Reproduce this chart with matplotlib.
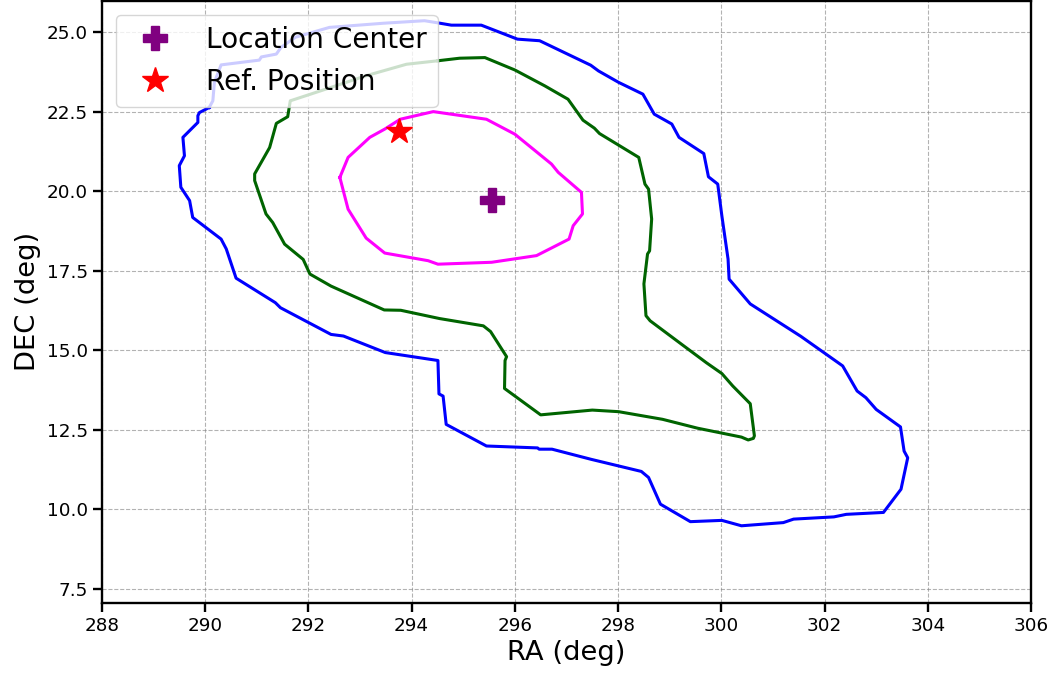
"""定位置信区域等高线图。"""

import matplotlib

matplotlib.use("Agg")

import matplotlib.pyplot as plt


# 外层（蓝）等高线
BLUE_RA = [
    290.08, 289.89, 289.86, 289.86, 289.57, 289.60, 289.50, 289.53, 289.70,
    289.76, 290.31, 290.41, 290.60, 291.36, 291.46, 292.44, 292.68, 293.49,
    294.51, 294.53, 294.61, 294.67, 295.45, 296.44, 296.47, 296.72, 297.48,
    298.45, 298.59, 298.82, 299.40, 300.01, 300.39, 301.20, 301.40, 302.18,
    302.42, 303.14, 303.48, 303.61, 303.54, 303.47, 303.00, 302.80, 302.63,
    302.35, 301.54, 300.56, 300.15, 300.13, 300.01, 299.93, 299.75, 299.66,
    299.18, 299.04, 298.70, 298.48, 298.01, 297.62, 297.47, 296.48, 296.05,
    295.35, 294.77, 294.48, 294.25, 293.45, 292.41, 291.75, 291.47, 291.38,
    291.09, 291.05, 290.31, 290.18, 290.15, 290.08,
]
BLUE_DEC = [
    22.64, 22.48, 22.38, 22.17, 21.70, 21.12, 20.81, 20.13, 19.71,
    19.18, 18.50, 18.19, 17.27, 16.50, 16.34, 15.50, 15.45, 14.93,
    14.68, 13.63, 13.56, 12.67, 11.99, 11.93, 11.89, 11.89, 11.57,
    11.19, 11.00, 10.16, 9.61, 9.65, 9.48, 9.58, 9.69, 9.76,
    9.84, 9.90, 10.63, 11.62, 11.83, 12.59, 13.14, 13.51, 13.72,
    14.51, 15.44, 16.46, 17.24, 17.87, 19.23, 20.23, 20.46, 21.19,
    21.70, 22.12, 22.43, 23.06, 23.43, 23.79, 23.97, 24.74, 24.79,
    25.23, 25.23, 25.31, 25.37, 25.29, 25.16, 24.85, 24.53, 24.32,
    24.23, 24.13, 23.98, 23.43, 22.85, 22.64,
]

# 中间（绿）等高线
GREEN_RA = [
    294.51, 294.93, 295.42, 296.00, 296.58, 297.03, 297.32, 297.54, 297.64,
    298.40, 298.52, 298.59, 298.65, 298.61, 298.57, 298.50, 298.54, 298.62,
    299.23, 299.71, 300.01, 300.22, 300.56, 300.64, 300.62, 300.52, 300.39,
    299.54, 298.86, 298.01, 297.50, 296.50, 295.80, 295.81, 295.84, 295.53,
    295.39, 294.54, 293.79, 293.47, 292.44, 292.03, 291.90, 291.54, 291.31,
    291.18, 290.96, 290.96, 291.25, 291.38, 291.60, 291.65, 292.25, 293.12,
    293.90, 294.51,
]
GREEN_DEC = [
    24.11, 24.19, 24.21, 23.82, 23.32, 22.90, 22.24, 21.99, 21.82,
    21.07, 20.23, 20.07, 19.13, 18.13, 18.03, 17.09, 16.09, 15.93,
    15.19, 14.61, 14.27, 13.88, 13.32, 12.31, 12.23, 12.18, 12.27,
    12.55, 12.83, 13.07, 13.12, 12.97, 13.80, 14.68, 14.80, 15.59,
    15.77, 16.00, 16.26, 16.27, 17.02, 17.40, 17.86, 18.34, 19.02,
    19.29, 20.34, 20.55, 21.38, 22.14, 22.35, 22.85, 23.17, 23.64,
    24.00, 24.11,
]

# 内层（品红）等高线
MAGENTA_RA = [
    292.61, 292.77, 293.19, 293.48, 293.78, 294.42, 295.45, 296.00, 296.71,
    296.84, 297.29, 297.31, 297.13, 297.05, 296.42, 295.55, 294.51, 294.32,
    293.48, 293.12, 292.77, 292.61,
]
MAGENTA_DEC = [
    20.44, 21.07, 21.70, 21.96, 22.27, 22.51, 22.27, 21.80, 20.86,
    20.60, 19.97, 19.29, 18.92, 18.50, 17.98, 17.77, 17.71, 17.82,
    18.06, 18.53, 19.44, 20.44,
]

CENTER_RA, CENTER_DEC = 295.56, 19.73
REF_RA, REF_DEC = 293.75, 21.91

X_TICKS = [288, 290, 292, 294, 296, 298, 300, 302, 304, 306]
Y_TICKS = [7.5, 10.0, 12.5, 15.0, 17.5, 20.0, 22.5, 25.0]


def main() -> None:
    plt.rcParams.update(
        {
            "font.family": ["DejaVu Sans"],
            "axes.linewidth": 1.7,
            "xtick.major.width": 1.7,
            "ytick.major.width": 1.7,
            "xtick.major.size": 6.5,
            "ytick.major.size": 6.5,
        }
    )

    fig, ax = plt.subplots(figsize=(10.5, 6.81), dpi=100)

    line_width = 2.2
    ax.plot(BLUE_RA, BLUE_DEC, color="blue", linewidth=line_width)
    ax.plot(GREEN_RA, GREEN_DEC, color="darkgreen", linewidth=line_width)
    ax.plot(MAGENTA_RA, MAGENTA_DEC, color="magenta", linewidth=line_width)

    ax.plot(
        [CENTER_RA], [CENTER_DEC],
        linestyle="none", marker="P", markersize=17,
        color="purple", label="Location Center", zorder=4,
    )
    ax.plot(
        [REF_RA], [REF_DEC],
        linestyle="none", marker="*", markersize=19,
        color="red", label="Ref. Position", zorder=4,
    )

    ax.set_xlim(288, 306)
    ax.set_ylim(7.05, 26.0)
    ax.set_xticks(X_TICKS)
    ax.set_yticks(Y_TICKS)
    ax.tick_params(labelsize=13.2)
    ax.set_xlabel("RA (deg)", fontsize=19.7)
    ax.set_ylabel("DEC (deg)", fontsize=19.7)
    ax.grid(True, linestyle="--", linewidth=0.8, color="gray", alpha=0.6)
    ax.set_axisbelow(True)

    ax.legend(loc="upper left", fontsize=20.2)

    fig.subplots_adjust(left=0.097, right=0.982, top=0.999, bottom=0.1145)
    fig.savefig("out.png", dpi=100)
    plt.close(fig)


if __name__ == "__main__":
    main()
